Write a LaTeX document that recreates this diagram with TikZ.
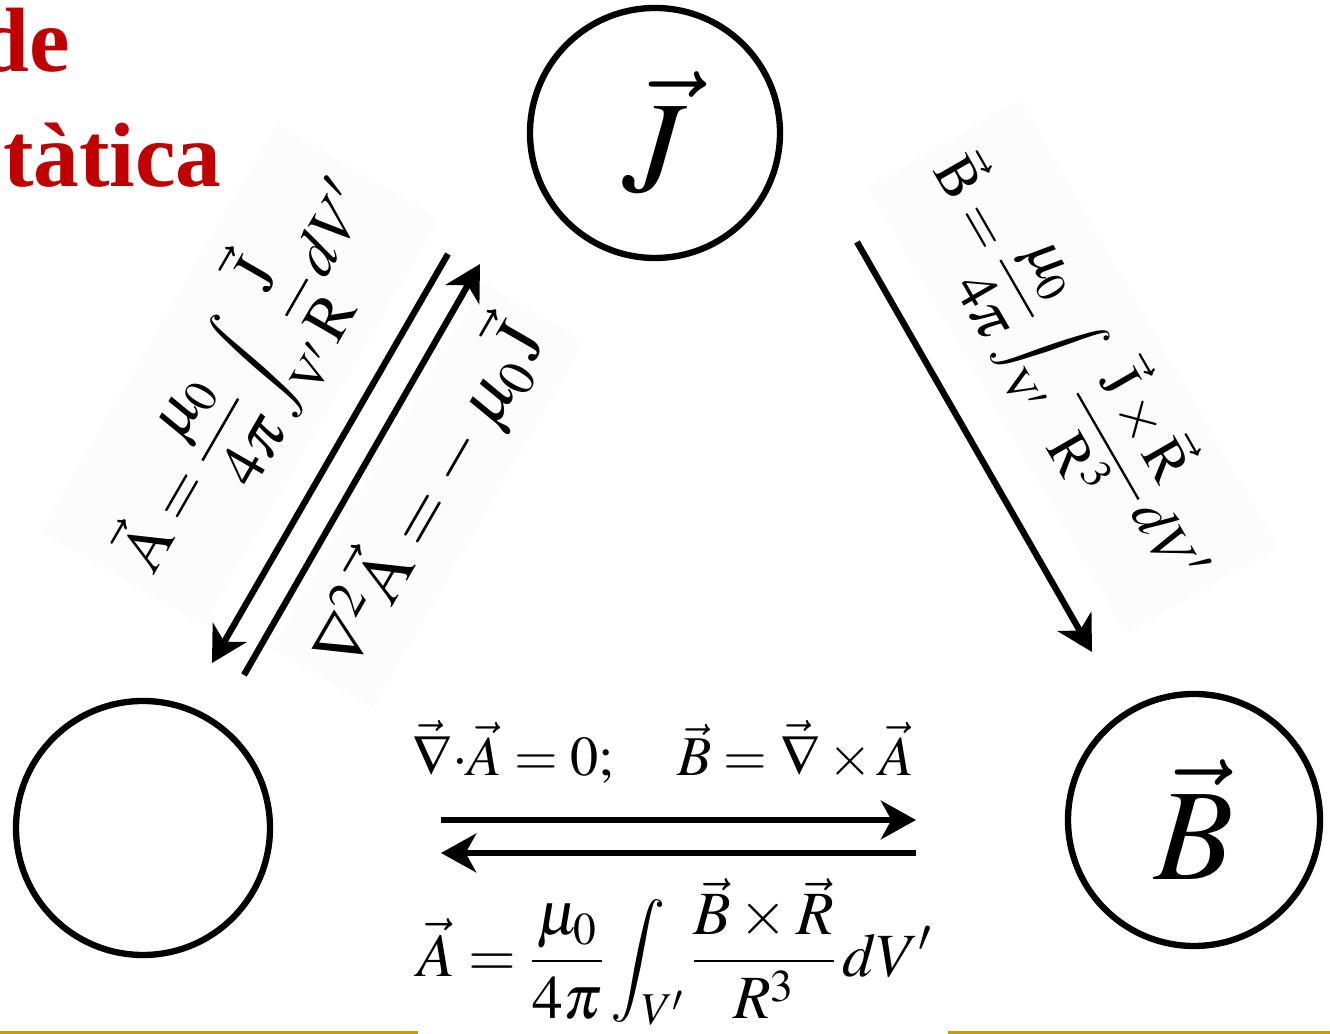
\documentclass[tikz,border=0pt]{standalone}
\usepackage{amsmath}
\usepackage{mathptmx}
\usepackage[no-math]{fontspec}
\setmainfont{Liberation Serif}
\usetikzlibrary{arrows.meta}
\definecolor{titlered}{RGB}{192,0,0}
\definecolor{gold}{RGB}{204,153,0}

\begin{document}
\begin{tikzpicture}[>={Stealth[length=20pt, width=22pt, inset=6pt]},
    field/.style={circle, draw, line width=3.6pt, minimum size=5cm, inner sep=0pt,
        font=\fontsize{74}{76}\selectfont},
    link/.style={->, line width=3.6pt},
    formula/.style={inner sep=10pt, font=\fontsize{40}{48}\selectfont},
    paper/.style={formula, fill=black!1}]
    \useasboundingbox (0,0) rectangle (26.6,20.68);
    % Title (cut off at the left)
    \node[anchor=base east, text=titlered, font=\fontsize{52}{60}\selectfont\bfseries]
        (tDe) at (1.52,19.24) {de};
    \node[anchor=base west, text=titlered, font=\fontsize{52}{60}\selectfont\bfseries, inner sep=0pt]
        (tTatica) at (0.06,16.94) {tàtica};
    % Formulas
    \node[paper, rotate=60, font=\fontsize{36}{44}\selectfont] (fAJ) at (4.80,13.18)
        {$\displaystyle\vec{\mathrm{A}}=\frac{\mu_0}{4\pi}\int_{\mathrm{V'}}\frac{\vec{\mathrm{J}}}{\mathrm{R}}\,dV'$};
    \node[paper, rotate=60] (fLap) at (8.56,10.78)
        {$\nabla^2\vec{\mathrm{A}}=-\;\mu_0\,\vec{\mathrm{J}}$};
    \node[paper, rotate=-60, font=\fontsize{33}{40}\selectfont] (fBiot) at (21.46,13.34)
        {$\displaystyle\vec{\mathrm{B}}=\frac{\mu_0}{4\pi}\int_{\mathrm{V'}}\frac{\vec{\mathrm{J}}\times\vec{\mathrm{R}}}{\mathrm{R}^3}\,dV'$};
    \node[formula, font=\fontsize{32}{38}\selectfont] (fGauge) at (13.26,5.64)
        {$\vec\nabla{\cdot}\vec A=0;\quad\vec B=\vec\nabla\times\vec A$};
    \node[formula, font=\fontsize{35}{42}\selectfont] (fAB) at (13.50,1.64)
        {$\displaystyle\vec A=\frac{\mu_0}{4\pi}\int_{V'}\frac{\vec B\times\vec R}{R^3}\,dV'$};
    % Fields
    \node[field] (cJ) at (13.10,18.02) {$\vec J$};
    \node[field, minimum size=5.08cm] (cA) at (2.86,4.12) {};
    \node[field, minimum size=5.04cm] (cB) at (23.88,4.28) {$\vec B$};
    % Arrow ends
    \coordinate (jToA) at (8.96,15.60);
    \coordinate (aFromJ) at (4.24,7.42);
    \coordinate (aToJ) at (4.88,7.18);
    \coordinate (jFromA) at (9.60,15.40);
    \coordinate (jToB) at (17.14,15.84);
    \coordinate (bFromJ) at (21.84,7.64);
    \coordinate (aToB) at (8.82,4.28);
    \coordinate (bFromA) at (18.32,4.28);
    \coordinate (bToA) at (18.32,3.62);
    \coordinate (aFromB) at (8.82,3.62);
    % Arrows
    \draw[link] (jToA) -- (aFromJ);
    \draw[link] (aToJ) -- (jFromA);
    \draw[link] (jToB) -- (bFromJ);
    \draw[link] (aToB) -- (bFromA);
    \draw[link] (bToA) -- (aFromB);
    % Footer lines
    \draw[gold, line width=2pt] (0,0.03) -- (8.36,0.03);
    \draw[gold, line width=2pt] (18.96,0.03) -- (26.6,0.03);
\end{tikzpicture}
\end{document}
